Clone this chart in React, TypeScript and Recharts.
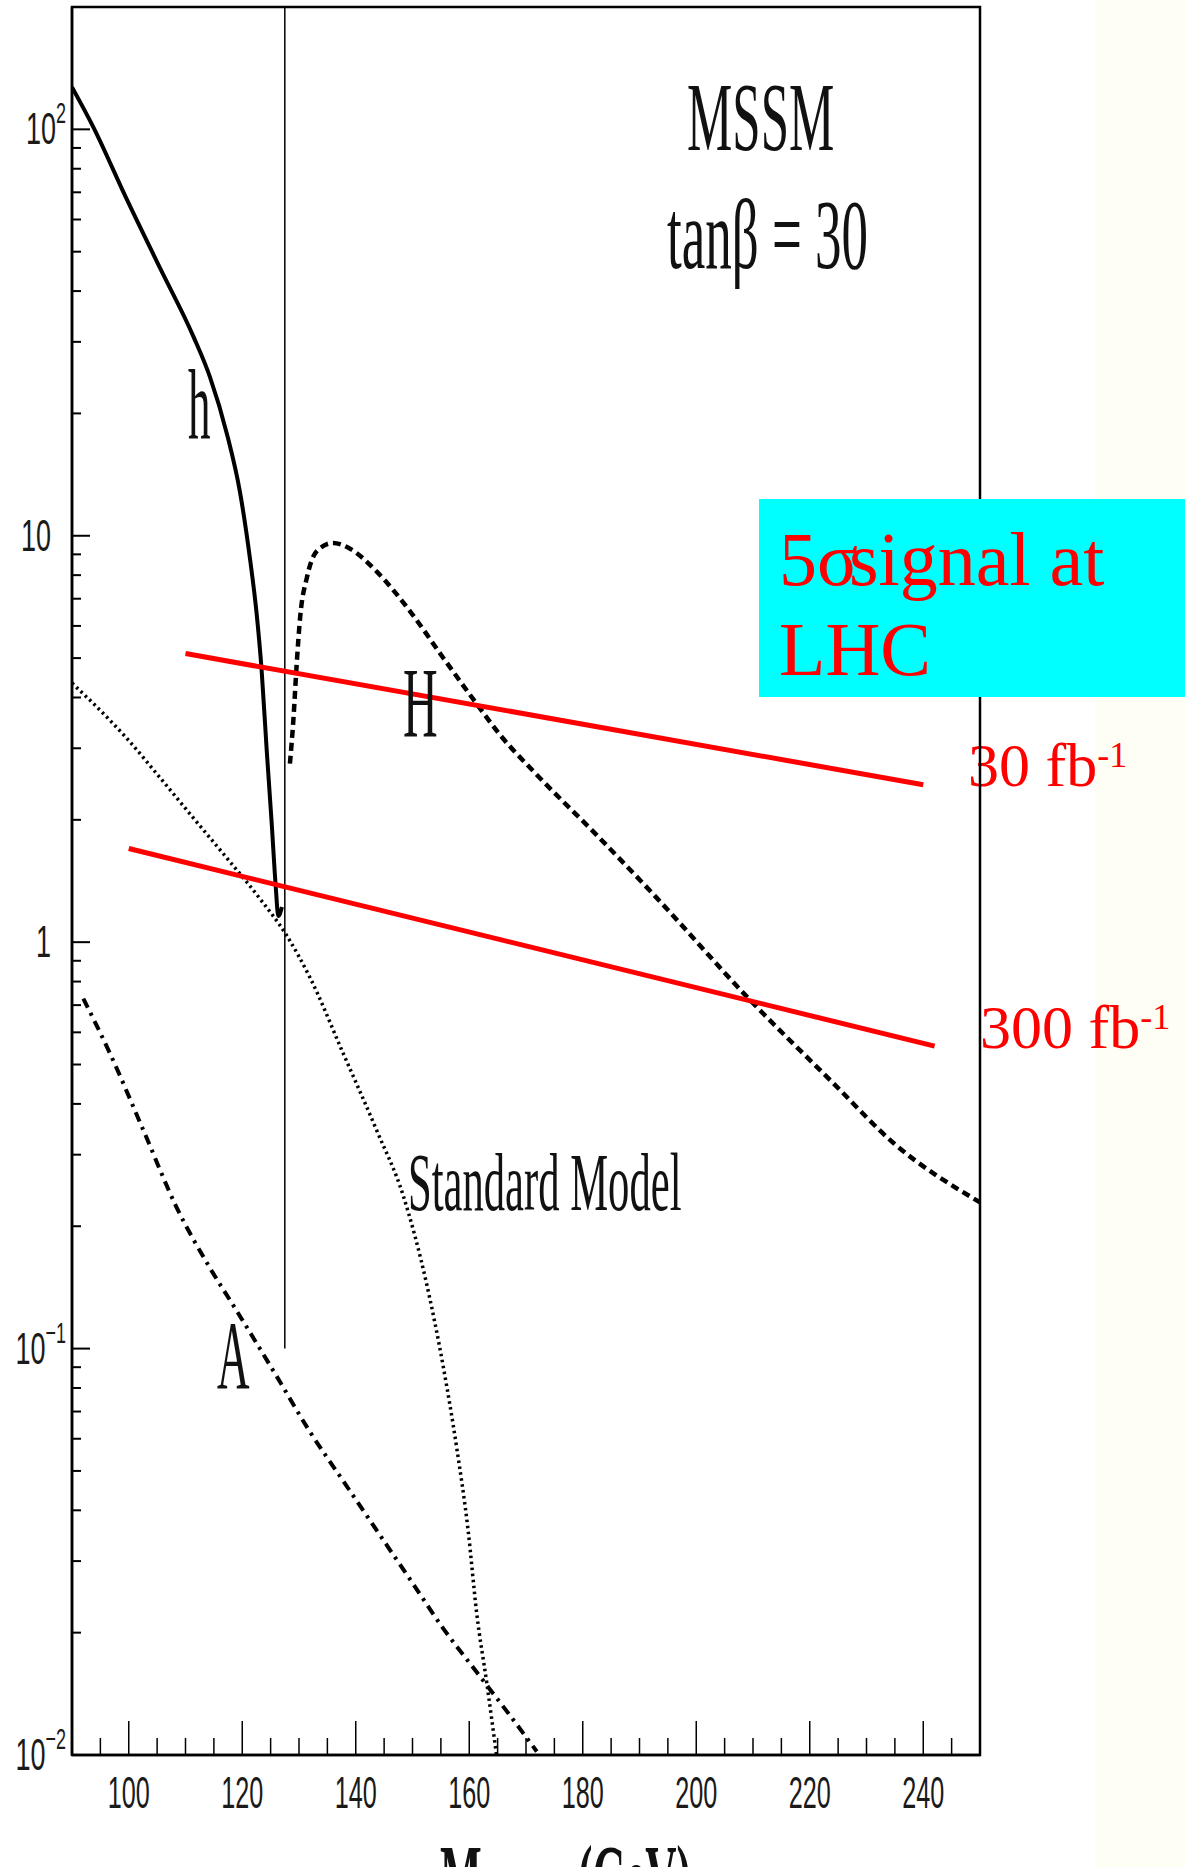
import React from 'react';
import { LineChart, Line, XAxis, YAxis, ReferenceArea } from 'recharts';

// Higgs masses (GeV) and sigma x BR
const hMass = [90, 93.8, 99.6, 105.5, 111.4, 114.3, 117.3, 119.6, 121.4, 122.5, 123.4, 124.3, 125.2, 125.9, 126.35, 127];
const hSigma = [127, 101, 67.5, 45.6, 30.9, 24.6, 17.8, 12.8, 8.7, 6.5, 4.7, 2.98, 1.95, 1.37, 1.16, 1.22];

const bigHMass = [128.4, 129.0, 129.6, 130.2, 131.4, 133.1, 136.0, 139.0, 143.7, 149.6, 155.4, 161.3, 165.4, 171.8, 182.2, 192.7, 209.5, 224.2, 234.7, 250];
const bigHSigma = [2.75, 3.51, 4.85, 6.3, 7.9, 9.15, 9.6, 9.29, 8.16, 6.51, 5.01, 3.86, 3.24, 2.59, 1.85, 1.3, 0.72, 0.449, 0.321, 0.229];

const aMass = [92.0, 96.7, 102.6, 108.4, 114.3, 119.0, 126.1, 131.9, 137.8, 143.7, 149.6, 155.4, 161.3, 167.2, 171.9];
const aSigma = [0.726, 0.532, 0.344, 0.223, 0.158, 0.124, 0.0853, 0.0625, 0.0472, 0.0357, 0.027, 0.0205, 0.016, 0.0125, 0.0102];

const smMass = [90, 93.8, 99.6, 105.5, 111.4, 117.3, 123.1, 127.8, 131.9, 137.8, 143.7, 148.4, 152.5, 155.4, 157.8, 159.8, 161.3, 163.1, 164.8];
const smSigma = [4.34, 3.86, 3.18, 2.54, 2.02, 1.61, 1.28, 1.04, 0.82, 0.532, 0.344, 0.237, 0.144, 0.0906, 0.0569, 0.0357, 0.0224, 0.015, 0.01];

// 5 sigma discovery lines
const lumi30Mass = [110, 240];
const lumi30Sigma = [5.13, 2.44];
const lumi300Mass = [100, 242];
const lumi300Sigma = [1.7, 0.555];

// vertical marker (h mass limit)
const markerMass = [127.5, 127.5];
const markerSigma = [0.1, 200];

const xTicks = [95, 100, 105, 110, 115, 120, 125, 130, 135, 140, 145, 150, 155, 160, 165, 170, 175, 180, 185, 190, 195, 200, 205, 210, 215, 220, 225, 230, 235, 240, 245];
const xLabels = [100, 120, 140, 160, 180, 200, 220, 240];

const yTicks = [
  0.01, 0.02, 0.03, 0.04, 0.05, 0.06, 0.07, 0.08, 0.09,
  0.1, 0.2, 0.3, 0.4, 0.5, 0.6, 0.7, 0.8, 0.9,
  1, 2, 3, 4, 5, 6, 7, 8, 9,
  10, 20, 30, 40, 50, 60, 70, 80, 90,
  100,
];
const yLabels = [
  { v: 100, base: '10', exp: '2' },
  { v: 10, base: '10', exp: '' },
  { v: 1, base: '1', exp: '' },
  { v: 0.1, base: '10', exp: '−1' },
  { v: 0.01, base: '10', exp: '−2' },
];

const toPoints = (xs: number[], ys: number[]) => xs.map((m, i) => ({ m, s: ys[i] }));

const sans = 'Liberation Sans, Arial, sans-serif';
const serif = 'Liberation Serif, Times New Roman, serif';

const XTick = (props: any) => {
  const { x, y, payload } = props;
  const major = xLabels.includes(payload.value);
  return (
    <g>
      <line x1={x} x2={x} y1={y} y2={y - (major ? 34 : 17)} stroke="#000" strokeWidth={1.5} />
      {major && (
        <g transform={`translate(${x},${y + 53}) scale(0.56,1)`}>
          <text textAnchor="middle" fontFamily={sans} fontSize={45} fill="#1a1a1a">{payload.value}</text>
        </g>
      )}
    </g>
  );
};

const YTick = (props: any) => {
  const { x, y, payload } = props;
  const lab = yLabels.find((l) => Math.abs(l.v - payload.value) < 1e-12);
  return (
    <g>
      <line x1={x} x2={x + (lab ? 18 : 9)} y1={y} y2={y} stroke="#000" strokeWidth={2} />
      {lab && (
        <g transform={`translate(${x - (lab.exp ? 6 : 21)},${y + 15}) scale(0.6,1)`}>
          <text textAnchor="end" fontFamily={sans} fontSize={45} fill="#1a1a1a">
            {lab.base}
            {lab.exp && <tspan dy={-21} fontSize={30}>{lab.exp}</tspan>}
          </text>
        </g>
      )}
    </g>
  );
};

// condensed serif label, like the squeezed original
const Squeezed = ({ x, y, size, sx, children, bold }: any) => (
  <g transform={`translate(${x},${y}) scale(${sx},1)`}>
    <text fontFamily={serif} fontSize={size} fontWeight={bold ? 'bold' : 'normal'} fill="#111">{children}</text>
  </g>
);

export default function App() {
  return (
    <div style={{ position: 'absolute', left: 0, top: 0, width: 1185, height: 1867, background: '#fff', overflow: 'hidden' }}>
      <div style={{ position: 'absolute', left: 1095, top: 0, width: 90, height: 1867, background: '#fffef4' }} />

      {/* luminosity labels sit under the frame line */}
      <svg width={1185} height={1867} style={{ position: 'absolute', left: 0, top: 0 }}>
        <text x={968} y={786} fontFamily={serif} fontSize={62} fill="#ff0000">
          30 fb<tspan dy={-19} fontSize={36}>-1</tspan>
        </text>
        <text x={980} y={1048} fontFamily={serif} fontSize={62} fill="#ff0000">
          300 fb<tspan dy={-19} fontSize={36}>-1</tspan>
        </text>
      </svg>

      <div style={{ position: 'absolute', left: 0, top: 0 }}>
        <LineChart width={1185} height={1867} margin={{ top: 7, right: 205, bottom: 52, left: 12 }}>
          <XAxis
            dataKey="m"
            type="number"
            domain={[90, 250]}
            allowDataOverflow
            ticks={xTicks}
            interval={0}
            tickSize={0}
            tickMargin={0}
            tickLine={false}
            tick={<XTick />}
            axisLine={{ stroke: '#000', strokeWidth: 2.5 }}
            height={60}
          />
          <YAxis
            dataKey="s"
            type="number"
            scale="log"
            domain={[0.01, 200]}
            allowDataOverflow
            ticks={yTicks}
            interval={0}
            tickSize={0}
            tickMargin={0}
            tickLine={false}
            tick={<YTick />}
            axisLine={{ stroke: '#000', strokeWidth: 2.5 }}
            width={60}
          />
          <ReferenceArea x1={90} x2={250} y1={0.01} y2={200} fill="none" stroke="#000" strokeWidth={2.5} ifOverflow="visible" />
          <Line data={toPoints(markerMass, markerSigma)} dataKey="s" type="linear" stroke="#000" strokeWidth={1.5} dot={false} isAnimationActive={false} />
          <Line data={toPoints(smMass, smSigma)} dataKey="s" type="monotone" stroke="#000" strokeWidth={3.5} strokeDasharray="2.5 3.5" dot={false} isAnimationActive={false} />
          <Line data={toPoints(aMass, aSigma)} dataKey="s" type="monotone" stroke="#000" strokeWidth={4} strokeDasharray="10 6 3 6" dot={false} isAnimationActive={false} />
          <Line data={toPoints(bigHMass, bigHSigma)} dataKey="s" type="monotone" stroke="#000" strokeWidth={4.5} strokeDasharray="8 5" dot={false} isAnimationActive={false} />
          <Line data={toPoints(hMass, hSigma)} dataKey="s" type="monotone" stroke="#000" strokeWidth={4} dot={false} isAnimationActive={false} />
          <Line data={toPoints(lumi30Mass, lumi30Sigma)} dataKey="s" type="linear" stroke="#ff0000" strokeWidth={5} dot={false} isAnimationActive={false} />
          <Line data={toPoints(lumi300Mass, lumi300Sigma)} dataKey="s" type="linear" stroke="#ff0000" strokeWidth={5} dot={false} isAnimationActive={false} />
        </LineChart>
      </div>

      <svg width={1185} height={1867} style={{ position: 'absolute', left: 0, top: 0 }}>
        <Squeezed x={687} y={150} size={98} sx={0.52}>MSSM</Squeezed>
        <Squeezed x={667} y={268} size={100} sx={0.53}>tanβ = 30</Squeezed>
        <Squeezed x={188} y={438} size={100} sx={0.45}>h</Squeezed>
        <Squeezed x={403} y={736} size={100} sx={0.48}>H</Squeezed>
        <Squeezed x={217} y={1388} size={98} sx={0.46}>A</Squeezed>
        <Squeezed x={408} y={1210} size={82} sx={0.52}>Standard Model</Squeezed>
        <Squeezed x={440} y={1908} size={92} sx={0.48} bold>M</Squeezed>
        <Squeezed x={578} y={1908} size={92} sx={0.47} bold>(GeV)</Squeezed>

        <rect x={759} y={499} width={426} height={198} fill="#00ffff" />
        <text x={779} y={585} fontFamily={serif} fontSize={76} fill="#ff0000">
          5σ<tspan dx={-9}>signal at</tspan>
        </text>
        <text x={779} y={675} fontFamily={serif} fontSize={76} fill="#ff0000">LHC</text>
      </svg>
    </div>
  );
}
